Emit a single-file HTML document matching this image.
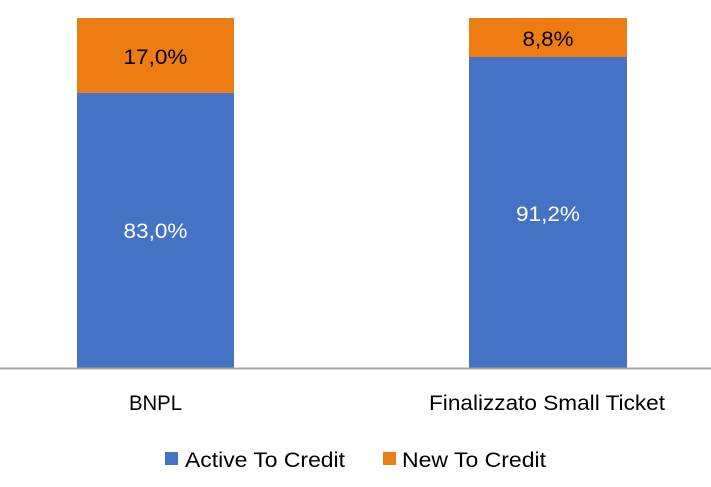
<!DOCTYPE html>
<html><head><meta charset="utf-8"><style>body{margin:0;background:#fff}svg{display:block}</style></head>
<body>
<svg width="711" height="487" xmlns="http://www.w3.org/2000/svg" font-family="Liberation Sans, sans-serif" font-size="21">
<rect x="77" y="18" width="157" height="75" fill="#ED7D13"/>
<rect x="77" y="93" width="157" height="275" fill="#4472C4"/>
<rect x="469" y="18" width="158" height="39" fill="#ED7D13"/>
<rect x="469" y="57" width="158" height="311" fill="#4472C4"/>
<line x1="0" y1="368.5" x2="711" y2="368.5" stroke="#A6A6A6" stroke-width="2"/>
<text x="155.5" y="64" text-anchor="middle" fill="#000" textLength="64" lengthAdjust="spacingAndGlyphs">17,0%</text>
<text x="155.5" y="238" text-anchor="middle" fill="#fff" textLength="64" lengthAdjust="spacingAndGlyphs">83,0%</text>
<text x="548" y="46" text-anchor="middle" fill="#000" textLength="51" lengthAdjust="spacingAndGlyphs">8,8%</text>
<text x="548" y="221" text-anchor="middle" fill="#fff" textLength="64" lengthAdjust="spacingAndGlyphs">91,2%</text>
<text x="155.5" y="410" text-anchor="middle" fill="#000" textLength="53" lengthAdjust="spacingAndGlyphs">BNPL</text>
<text x="547" y="410" text-anchor="middle" fill="#000" textLength="236" lengthAdjust="spacingAndGlyphs">Finalizzato Small Ticket</text>
<rect x="165" y="452" width="13" height="13" fill="#4472C4"/>
<text x="185" y="467" fill="#000" textLength="160" lengthAdjust="spacingAndGlyphs">Active To Credit</text>
<rect x="383" y="452" width="13" height="13" fill="#ED7D13"/>
<text x="402" y="467" fill="#000" textLength="144" lengthAdjust="spacingAndGlyphs">New To Credit</text>
</svg>
</body></html>
